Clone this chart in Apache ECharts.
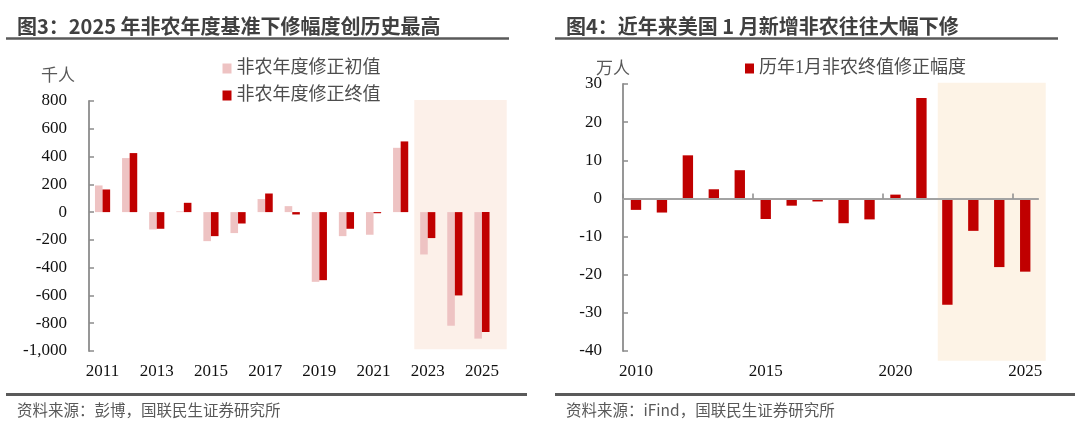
<!DOCTYPE html>
<html>
<head>
<meta charset="utf-8">
<script src="https://cdn.jsdelivr.net/npm/echarts@6/dist/echarts.min.js"></script>
<style>
html,body{margin:0;padding:0;background:#fff;}
#c{width:1080px;height:427px;}
</style>
</head>
<body>
<div id="c"></div>
<script>
// ---------- data ----------
const leftTitle = '图3：2025 年非农年度基准下修幅度创历史最高';
const rightTitle = '图4：近年来美国 1 月新增非农往往大幅下修';
const leftSource = '资料来源：彭博，国联民生证券研究所';
const rightSource = '资料来源：iFind，国联民生证券研究所';

const leftYears = ['2011','2012','2013','2014','2015','2016','2017','2018','2019','2020','2021','2022','2023','2024','2025'];
const leftPrelimName = '非农年度修正初值';
const leftFinalName = '非农年度修正终值';
const leftPrelim = [192, 389, -125, 5, -209, -151, 94, 43, -502, -173, -163, 463, -305, -818, -911];
const leftFinal  = [163, 425, -120, 67, -173, -82, 134, -17, -490, -120, -8, 509, -187, -600, -864];
const leftYTicks = [-1000, -800, -600, -400, -200, 0, 200, 400, 600, 800];
const leftUnit = '千人';

const rightYears = ['2010','2011','2012','2013','2014','2015','2016','2017','2018','2019','2020','2021','2022','2023','2024','2025'];
const rightName = '历年1月非农终值修正幅度';
const rightRevision = [-3.0, -3.7, 11.3, 2.4, 7.4, -5.4, -1.9, -0.8, -6.5, -5.5, 1.0, 26.3, -27.9, -8.5, -18.0, -19.2];
const rightYTicks = [-40, -30, -20, -10, 0, 10, 20, 30];
const rightUnit = '万人';

// ---------- chart ----------
const serif = "'Liberation Serif','Times New Roman','Noto Sans CJK SC',serif";
const cjk = "'Noto Sans CJK SC','Microsoft YaHei',sans-serif";
const axisGray = '#8c8c8c';

const chart = echarts.init(document.getElementById('c'), null, {renderer: 'canvas'});

const titleStyle = {fontFamily: cjk, fontSize: 20, fontWeight: 'bold', color: '#404040'};
const srcStyle = {fontFamily: cjk, fontSize: 15.5, fontWeight: 'normal', color: '#595959'};
const labelStyle = {fontFamily: serif, fontSize: 17, color: '#111'};
const legendText = {fontFamily: serif, fontSize: 18, color: '#4d4d4d'};

const rMin = rightYTicks[0], rMax = rightYTicks[rightYTicks.length - 1];

const option = {
  animation: false,
  backgroundColor: '#fff',
  title: [
    {text: leftTitle, left: 17, top: 16, padding: 0, textStyle: titleStyle},
    {text: rightTitle, left: 566, top: 16, padding: 0, textStyle: titleStyle},
    {text: leftSource, left: 17, top: 402, padding: 0, textStyle: srcStyle},
    {text: rightSource, left: 566, top: 402, padding: 0, textStyle: srcStyle}
  ],
  graphic: [
    {type: 'line', shape: {x1: 6, y1: 38.5, x2: 509, y2: 38.5}, style: {stroke: '#5a5a5a', lineWidth: 2.5}},
    {type: 'line', shape: {x1: 555, y1: 38.5, x2: 1058, y2: 38.5}, style: {stroke: '#5a5a5a', lineWidth: 2.5}},
    {type: 'line', shape: {x1: 6, y1: 394.5, x2: 527, y2: 394.5}, style: {stroke: '#5a5a5a', lineWidth: 3}},
    {type: 'line', shape: {x1: 555, y1: 394.5, x2: 1075, y2: 394.5}, style: {stroke: '#5a5a5a', lineWidth: 3}}
  ],
  legend: [
    {
      data: [leftPrelimName, leftFinalName],
      orient: 'vertical', left: 222.5, top: 59.5,
      icon: 'rect', itemWidth: 9, itemHeight: 10, itemGap: 9, padding: 0,
      textStyle: legendText
    },
    {
      data: [rightName],
      orient: 'vertical', left: 745, top: 59.5,
      icon: 'rect', itemWidth: 9, itemHeight: 10, padding: 0,
      textStyle: legendText
    }
  ],
  grid: [
    {left: 89, top: 101, width: 406.5, height: 250},
    {left: 623, top: 84, width: 415.2, height: 267},
    {left: 89, top: 100, width: 417.7, height: 249.3},
    {left: 623, top: 82.7, width: 422.7, height: 278},
    {left: 623, top: 84, width: 389.25, height: 267}
  ],
  xAxis: [
    {
      type: 'category', gridIndex: 0, data: leftYears,
      axisLine: {show: false, onZero: false}, axisTick: {show: false},
      axisLabel: Object.assign({interval: 1, margin: 12}, labelStyle)
    },
    {
      type: 'category', gridIndex: 1, data: rightYears, position: 'bottom',
      axisLine: {show: false, onZero: false}, axisTick: {show: false},
      axisLabel: Object.assign({interval: 4, margin: 12}, labelStyle)
    },
    {
      type: 'category', gridIndex: 1, data: rightYears, position: 'top', z: 5,
      axisLine: {show: true, onZero: true, lineStyle: {color: '#a3a3a3', width: 1.8}},
      axisTick: {show: false},
      axisLabel: {show: false}
    },
    {type: 'value', gridIndex: 2, show: false, min: 2010.5, max: 2025.91},
    {type: 'value', gridIndex: 3, show: false, min: 2009.5, max: 2025.79},
    {
      type: 'value', gridIndex: 4, min: 2009.5, max: 2024.5, interval: 5, z: 5,
      axisLine: {show: false, onZero: true},
      axisTick: {show: true, inside: true, length: 5, lineStyle: {color: axisGray, width: 1.5}},
      axisLabel: {show: false}, splitLine: {show: false}
    }
  ],
  yAxis: [
    {
      type: 'value', gridIndex: 0,
      min: leftYTicks[0], max: leftYTicks[leftYTicks.length - 1], interval: leftYTicks[1] - leftYTicks[0],
      name: leftUnit, nameLocation: 'end', nameGap: 18,
      nameTextStyle: {fontFamily: cjk, fontSize: 17, color: '#595959', align: 'right', padding: [0, 14, 0, 0]},
      axisLine: {show: true, lineStyle: {color: axisGray, width: 1.8}},
      axisTick: {show: true, inside: true, length: 5, lineStyle: {color: axisGray, width: 1.5}},
      splitLine: {show: false},
      axisLabel: Object.assign({margin: 22, formatter: v => v.toLocaleString('en-US')}, labelStyle)
    },
    {
      type: 'value', gridIndex: 1,
      min: rMin, max: rMax, interval: rightYTicks[1] - rightYTicks[0],
      name: rightUnit, nameLocation: 'end', nameGap: 8,
      nameTextStyle: {fontFamily: cjk, fontSize: 17, color: '#595959', align: 'center', padding: [0, 20, 0, 0]},
      axisLine: {show: true, lineStyle: {color: axisGray, width: 1.8}},
      axisTick: {show: true, inside: true, length: 5, lineStyle: {color: axisGray, width: 1.5}},
      splitLine: {show: false},
      axisLabel: Object.assign({margin: 21}, labelStyle)
    },
    {type: 'value', gridIndex: 2, show: false, min: 0, max: 1},
    {type: 'value', gridIndex: 3, show: false, min: 0, max: 1},
    {type: 'value', gridIndex: 4, show: false, min: rMin, max: rMax}
  ],
  series: [
    {
      type: 'line', xAxisIndex: 3, yAxisIndex: 2, data: [], silent: true, z: 0,
      markArea: {silent: true, z: 0, itemStyle: {color: '#fcf0e9'},
        data: [[{xAxis: 2022.5, yAxis: 0}, {xAxis: 2025.91, yAxis: 1}]]}
    },
    {
      type: 'line', xAxisIndex: 4, yAxisIndex: 3, data: [], silent: true, z: 0,
      markArea: {silent: true, z: 0, itemStyle: {color: '#fdf3e6'},
        data: [[{xAxis: 2021.63, yAxis: 0}, {xAxis: 2025.79, yAxis: 1}]]}
    },
    {
      name: leftPrelimName, type: 'bar', xAxisIndex: 0, yAxisIndex: 0, data: leftPrelim,
      barGap: '0%', barCategoryGap: '44%', z: 3,
      itemStyle: {color: '#eec3c3'}
    },
    {
      name: leftFinalName, type: 'bar', xAxisIndex: 0, yAxisIndex: 0, data: leftFinal,
      barGap: '0%', barCategoryGap: '44%', z: 3,
      itemStyle: {color: '#c00000'}
    },
    {
      name: rightName, type: 'bar', xAxisIndex: 1, yAxisIndex: 1, data: rightRevision,
      barCategoryGap: '60%', z: 3,
      itemStyle: {color: '#c00000'}
    }
  ]
};
chart.setOption(option);
</script>
</body>
</html>
